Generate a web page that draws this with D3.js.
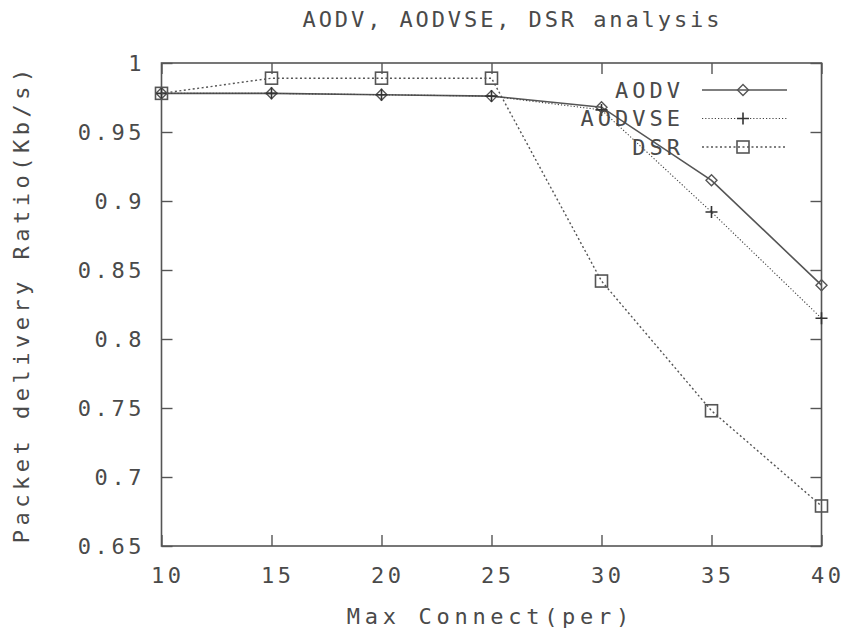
<!DOCTYPE html>
<html>
<head>
<meta charset="utf-8">
<script src="https://cdn.jsdelivr.net/npm/d3@7"></script>
<style>
  html, body { margin: 0; padding: 0; background: #fff; }
  svg text { font-family: "DejaVu Sans Mono", "Liberation Mono", monospace; fill: #4a4a4a; }
</style>
</head>
<body>
<script>
const xValues = [10, 15, 20, 25, 30, 35, 40];
const aodv    = [0.978, 0.978, 0.977, 0.976, 0.968, 0.915, 0.839];
const aodvse  = [0.978, 0.978, 0.977, 0.976, 0.966, 0.892, 0.815];
const dsr     = [0.978, 0.989, 0.989, 0.989, 0.842, 0.748, 0.679];
const xTicks = [10, 15, 20, 25, 30, 35, 40];
const yTicks = [0.65, 0.7, 0.75, 0.8, 0.85, 0.9, 0.95, 1];
const seriesNames = ["AODV", "AODVSE", "DSR"];
const titleText = "AODV, AODVSE, DSR analysis";
const xLabel = "Max Connect(per)";
const yLabel = "Packet delivery Ratio(Kb/s)";

const W = 851, H = 633;
const m = { left: 161.5, right: 821.5, top: 63, bottom: 546 };
const svg = d3.select("body").append("svg").attr("width", W).attr("height", H);

const x = d3.scaleLinear().domain([10, 40]).range([m.left, m.right]);
const y = d3.scaleLinear().domain([0.65, 1]).range([m.bottom, m.top]);

const axisColor = "#555";
const fs = 22, ls = 3.6;

// frame
svg.append("rect").attr("x", m.left).attr("y", m.top)
  .attr("width", m.right - m.left).attr("height", m.bottom - m.top)
  .attr("fill", "none").attr("stroke", axisColor).attr("stroke-width", 1.6);

// axes with inward ticks (mirrored)
const tl = 11;
const fmtY = d => d === 1 ? "1" : String(d).replace(/^0?\./, "0.");
const gB = svg.append("g").attr("transform", `translate(0,${m.bottom})`)
  .call(d3.axisBottom(x).tickValues(xTicks).tickSize(-tl).tickPadding(18).tickFormat(d3.format("d")));
const gT = svg.append("g").attr("transform", `translate(0,${m.top})`)
  .call(d3.axisTop(x).tickValues(xTicks).tickSize(-tl).tickFormat(""));
const gL = svg.append("g").attr("transform", `translate(${m.left},0)`)
  .call(d3.axisLeft(y).tickValues(yTicks).tickSize(-tl).tickPadding(20).tickFormat(fmtY));
const gR = svg.append("g").attr("transform", `translate(${m.right},0)`)
  .call(d3.axisRight(y).tickValues(yTicks).tickSize(-tl).tickFormat(""));
[gB, gT, gL, gR].forEach(g => {
  g.select(".domain").remove();
  g.selectAll(".tick line").attr("stroke", axisColor).attr("stroke-width", 1.4);
  g.selectAll("text").attr("font-size", fs).attr("letter-spacing", ls)
    .attr("font-family", "DejaVu Sans Mono").attr("fill", "#4a4a4a");
});
gB.selectAll(".tick text").attr("dx", 4 + ls / 2).attr("dy", "0.85em");
gL.selectAll(".tick text").attr("dx", ls).attr("dy", "0.36em");

// title and labels
svg.append("text").attr("x", 511 + 1.45).attr("y", 27).attr("text-anchor", "middle")
  .attr("font-size", fs).attr("letter-spacing", 2.9).text(titleText);
svg.append("text").attr("x", 488 + 2.35).attr("y", 624).attr("text-anchor", "middle")
  .attr("font-size", fs).attr("letter-spacing", 4.7).text(xLabel);
svg.append("text").attr("transform", `translate(29,${306 - 2.25}) rotate(-90)`).attr("text-anchor", "middle")
  .attr("font-size", fs).attr("letter-spacing", 4.5).text(yLabel);

// lines
const styles = [
  { data: aodv,   stroke: "#555", width: 1.6, dash: null,  marker: "diamond" },
  { data: aodvse, stroke: "#444", width: 1.1, dash: "1.2,2", marker: "plus" },
  { data: dsr,    stroke: "#555", width: 1.4, dash: "2,2.5", marker: "square" }
];
const line = d3.line().x((d, i) => x(xValues[i])).y(d => y(d));

function drawMarker(g, type, cx, cy) {
  if (type === "diamond") {
    g.append("path").attr("d", `M${cx},${cy-5.5}L${cx+5.5},${cy}L${cx},${cy+5.5}L${cx-5.5},${cy}Z`)
      .attr("fill", "none").attr("stroke", "#555").attr("stroke-width", 1.4);
  } else if (type === "plus") {
    g.append("path").attr("d", `M${cx-6},${cy}H${cx+6}M${cx},${cy-6}V${cy+6}`)
      .attr("stroke", "#333").attr("stroke-width", 1.6);
  } else {
    g.append("rect").attr("x", cx - 6).attr("y", cy - 6).attr("width", 12).attr("height", 12)
      .attr("fill", "none").attr("stroke", "#555").attr("stroke-width", 1.6);
  }
}

styles.forEach(s => {
  svg.append("path").datum(s.data).attr("d", line).attr("fill", "none")
    .attr("stroke", s.stroke).attr("stroke-width", s.width)
    .attr("stroke-dasharray", s.dash);
  const g = svg.append("g");
  s.data.forEach((d, i) => drawMarker(g, s.marker, x(xValues[i]), y(d)));
});

// legend
const lg = svg.append("g");
seriesNames.forEach((name, i) => {
  const ly = 90 + i * 28.5;
  lg.append("text").attr("x", 684).attr("y", ly).attr("dy", "0.36em").attr("text-anchor", "end")
    .attr("font-size", fs).attr("letter-spacing", 4).text(name);
  const s = styles[i];
  lg.append("line").attr("x1", 702).attr("x2", 787).attr("y1", ly).attr("y2", ly)
    .attr("stroke", s.stroke).attr("stroke-width", s.width).attr("stroke-dasharray", s.dash);
  drawMarker(lg, s.marker, 743, ly);
});
</script>
</body>
</html>
